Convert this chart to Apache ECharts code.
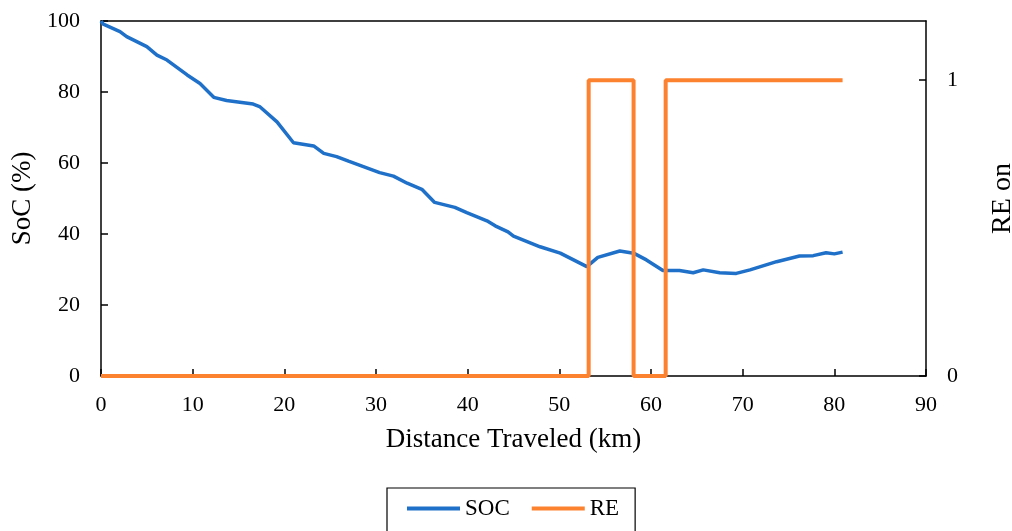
<!DOCTYPE html>
<html><head><meta charset="utf-8">
<script src="https://cdn.jsdelivr.net/npm/echarts@6/dist/echarts.min.js"></script>
<style>html,body{margin:0;padding:0;background:#fff;overflow:hidden;width:1012px;height:531px}#c{width:1012px;height:531px}</style>
</head><body><div id="c"></div>
<script>
const socKm = [0,0.25,2.07,2.8,5.0,6.1,7.2,9.4,10.8,12.3,13.7,16.6,17.3,19.2,21.0,23.2,24.3,25.7,27.0,30.4,31.9,33.4,35.0,36.4,38.6,39.9,42.1,43.0,44.4,45.0,47.9,50.1,53.0,54.2,56.6,58.1,59.5,61.3,63.1,64.6,65.7,67.5,69.3,70.8,73.7,76.2,77.7,79.1,80.0,80.9];
const socVal = [100,99.1,97.0,95.6,92.8,90.4,89.0,84.8,82.4,78.5,77.6,76.6,75.9,71.6,65.7,64.8,62.7,61.8,60.5,57.3,56.3,54.3,52.6,48.9,47.5,46.0,43.7,42.3,40.6,39.4,36.4,34.6,30.8,33.4,35.2,34.6,32.7,29.7,29.7,29.1,29.9,29.1,28.9,29.9,32.2,33.8,33.9,34.7,34.4,34.9];
const reKm = [0,53.2,53.2,58.1,58.1,61.6,61.6,80.9];
const reVal = [0,0,1,1,0,0,1,1];
const xTicks = [0,10,20,30,40,50,60,70,80,90];
const socTicks = [0,20,40,60,80,100];
const reTicks = [0,1];

const font = 'Liberation Serif';
const chart = echarts.init(document.getElementById('c'), null, {width:1012, height:531});
chart.setOption({
  animation:false,
  textStyle:{fontFamily:font},
  grid:{left:101,right:86,top:21,bottom:155,containLabel:false,outerBoundsMode:'none'},
  legend:{
    data:['SOC','RE'], top:488, left:387,
    borderColor:'#000', borderWidth:1.2, padding:[9,16,20,20],
    itemWidth:53, itemHeight:4, itemGap:22, icon:'rect',
    textStyle:{fontFamily:font,fontSize:23,color:'#000'}
  },
  xAxis:[{
    type:'value', min:0, max:90, interval:10,
    name:'Distance Traveled (km)', nameLocation:'middle', nameGap:50,
    nameTextStyle:{fontFamily:font,fontSize:27,color:'#000'},
    axisLine:{lineStyle:{color:'#000',width:1.5}},
    axisTick:{inside:true,length:7,lineStyle:{color:'#000',width:1.5}},
    axisLabel:{fontFamily:font,fontSize:22,color:'#000',margin:18,
      formatter:v=>xTicks.includes(v)?String(v):''},
    splitLine:{show:false}
  },{
    type:'value', min:0, max:90, position:'top',
    axisLine:{show:true,onZero:false,lineStyle:{color:'#000',width:1.5}},
    axisTick:{show:false}, axisLabel:{show:false}, splitLine:{show:false}
  }],
  yAxis:[{
    type:'value', min:0, max:100, interval:20,
    name:'SoC (%)', nameLocation:'middle', nameGap:56, nameRotate:90,
    nameTextStyle:{fontFamily:font,fontSize:27,color:'#000'},
    axisLine:{show:true,onZero:false,lineStyle:{color:'#000',width:1.5}},
    axisTick:{show:true,inside:true,length:7,lineStyle:{color:'#000',width:1.5}},
    axisLabel:{fontFamily:font,fontSize:22,color:'#000',margin:21,
      formatter:v=>socTicks.includes(v)?String(v):''},
    splitLine:{show:false}
  },{
    type:'value', min:0, max:1.2, interval:1, position:'right',
    name:'RE on', nameLocation:'middle', nameGap:63, nameRotate:90,
    nameTextStyle:{fontFamily:font,fontSize:28,color:'#000'},
    axisLine:{show:true,onZero:false,lineStyle:{color:'#000',width:1.5}},
    axisTick:{show:true,inside:true,length:7,lineStyle:{color:'#000',width:1.5}},
    axisLabel:{fontFamily:font,fontSize:22,color:'#000',margin:21,showMaxLabel:false,
      formatter:v=>reTicks.includes(v)?String(v):''},
    splitLine:{show:false}
  }],
  series:[{
    name:'SOC', type:'line', xAxisIndex:0, yAxisIndex:0, showSymbol:false, symbol:'none',
    data:socKm.map((k,i)=>[k,socVal[i]]),
    lineStyle:{color:'#1f70c8',width:3.5}, itemStyle:{color:'#1f70c8'}
  },{
    name:'RE', type:'line', xAxisIndex:0, yAxisIndex:1, showSymbol:false, symbol:'none',
    data:reKm.map((k,i)=>[k,reVal[i]]),
    lineStyle:{color:'#fd8230',width:4}, itemStyle:{color:'#fd8230'}
  }]
});
</script></body></html>
